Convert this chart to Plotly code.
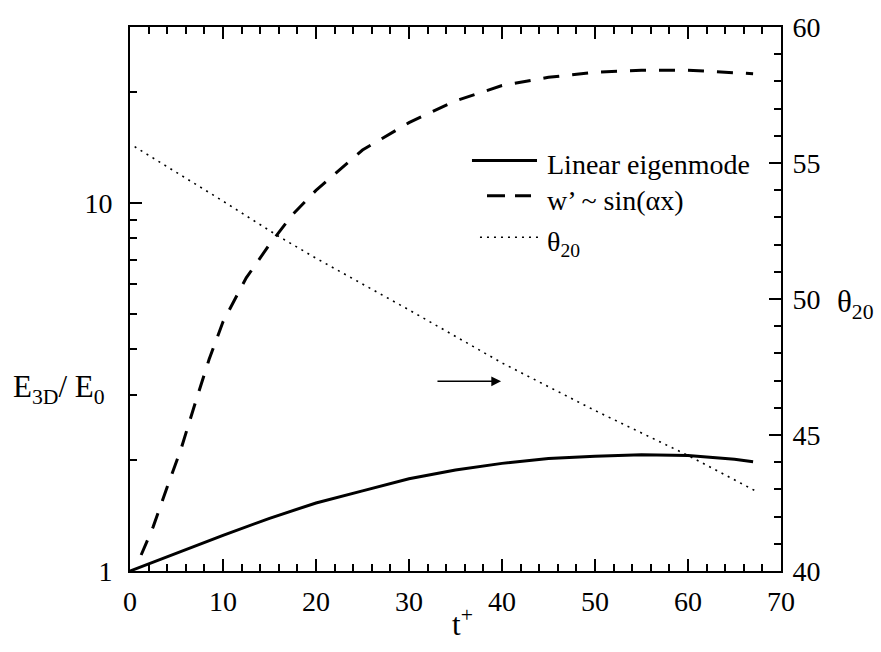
import numpy as np
import plotly.graph_objects as go

# Energy growth of the 3D disturbance (left, log axis) and theta_20 (right axis)
t_linear = [0, 5, 10, 15, 20, 25, 30, 35, 40, 45, 50, 55, 60, 65, 67]
e_linear = [1.0, 1.12, 1.25, 1.39, 1.53, 1.65, 1.78, 1.88, 1.96, 2.02,
            2.05, 2.07, 2.06, 2.01, 1.98]

t_sine = [1.2, 2.5, 4, 5.5, 7, 8.5, 10, 12.5, 15, 17.5, 20, 25, 30, 35,
          40, 45, 50, 55, 60, 67]
e_sine = [1.105, 1.32, 1.69, 2.15, 2.85, 3.75, 4.75, 6.25, 7.7, 9.3,
          10.8, 13.9, 16.5, 18.9, 20.8, 21.9, 22.6, 22.9, 22.9, 22.4]

t_theta = [0.5, 10, 16, 20, 30, 40, 50, 60, 67.5]
theta_20 = [55.6, 53.6, 52.3, 51.5, 49.6, 47.65, 45.9, 44.25, 42.9]

x_ticks = [0, 10, 20, 30, 40, 50, 60, 70]
left_ticks = [1, 10]
left_minor = [2, 3, 4, 5, 6, 7, 8, 9, 20]
right_ticks = [40, 45, 50, 55, 60]

legend_names = ["Linear eigenmode", "w\u2019 ~ sin(\u03b1x)", "\u03b8<sub>20</sub>"]

FONT = "Times New Roman"
SIZE = 28


def serif(size=SIZE):
    return dict(family=FONT, size=size, color="black")


fig = go.Figure()

fig.add_trace(go.Scatter(
    x=t_linear, y=e_linear, mode="lines", name=legend_names[0],
    line=dict(color="black", width=3)))
fig.add_trace(go.Scatter(
    x=t_sine, y=e_sine, mode="lines", name=legend_names[1],
    line=dict(color="black", width=3, dash="16px,13px")))
fig.add_trace(go.Scatter(
    x=t_theta, y=theta_20, mode="lines", name=legend_names[2],
    yaxis="y2", line=dict(color="black", width=1.6, dash="2px,5px")))
# invisible trace carrying the minor log ticks of the left axis
fig.add_trace(go.Scatter(x=[None], y=[None], yaxis="y3", showlegend=False,
                         hoverinfo="skip"))

axis_common = dict(
    showline=True, linecolor="black", linewidth=2, showgrid=False,
    zeroline=False, ticks="inside", tickcolor="black", tickwidth=2,
    tickfont=serif())

fig.update_layout(
    width=881, height=652,
    margin=dict(l=130, r=100, t=25, b=81),
    paper_bgcolor="white", plot_bgcolor="white",
    font=dict(family="serif", color="black"),
    showlegend=False,
    xaxis=dict(range=[0, 70], tickvals=x_ticks, ticklen=12, mirror="ticks",
               ticklabelstandoff=4,
               minor=dict(dtick=2, ticks="inside", ticklen=7,
                          tickcolor="black", tickwidth=1.5),
               **axis_common),
    yaxis=dict(type="log", range=[0, np.log10(30)], tickvals=left_ticks,
               ticktext=[str(v) for v in left_ticks], ticklen=12,
               ticklabelstandoff=10, **axis_common),
    yaxis3=dict(type="log", range=[0, np.log10(30)], overlaying="y",
                side="left", tickvals=left_minor, showticklabels=False,
                ticks="inside", ticklen=7, tickcolor="black", tickwidth=1.5,
                showline=False, showgrid=False, zeroline=False),
    yaxis2=dict(overlaying="y", side="right", range=[40, 60],
                tickvals=right_ticks, ticklen=12, ticklabelstandoff=4,
                minor=dict(dtick=1, ticks="inside", ticklen=7,
                           tickcolor="black", tickwidth=1.5),
                **axis_common),
)

# Legend drawn as sample lines plus labels
leg_rows = [
    dict(x0=0.5253, x1=0.6252, y=0.7546, dash="solid", width=3),
    dict(x0=0.5484, x1=0.6160, y=0.6900, dash="18px,10px", width=3),
    dict(x0=0.5376, x1=0.6344, y=0.6136, dash="2px,5px", width=1.6),
]
leg_text_y = [0.7480, 0.6810, 0.6020]
for row, name, ty in zip(leg_rows, legend_names, leg_text_y):
    fig.add_shape(type="line", xref="paper", yref="paper",
                  x0=row["x0"], x1=row["x1"], y0=row["y"], y1=row["y"],
                  line=dict(color="black", width=row["width"], dash=row["dash"]))
    fig.add_annotation(text=name, xref="paper", yref="paper", x=0.6375,
                       y=ty, xanchor="left", yanchor="middle",
                       showarrow=False, font=serif())

fig.add_annotation(text="E<sub>3D</sub>/ E<sub>0</sub>", xref="paper",
                   yref="paper", x=-0.183, y=0.335, xanchor="left",
                   yanchor="middle", showarrow=False, font=serif(31))
fig.add_annotation(text="\u03b8<sub>20</sub>", xref="paper", yref="paper",
                   x=1.083, y=0.49, xanchor="left", yanchor="middle",
                   showarrow=False, font=serif(31))
fig.add_annotation(text="t<sup>+</sup>", xref="paper", yref="paper",
                   x=0.51, y=-0.095, xanchor="center", yanchor="middle",
                   showarrow=False, font=serif(31))
# arrow pointing the theta_20 curve to the right-hand axis
fig.add_annotation(x=39.9, y=0.515, ax=32.9, ay=0.515, xref="x", yref="y",
                   axref="x", ayref="y", text="", showarrow=True,
                   arrowhead=2, arrowsize=1.3, arrowwidth=1.5,
                   arrowcolor="black")

fig.write_html("out.html")
